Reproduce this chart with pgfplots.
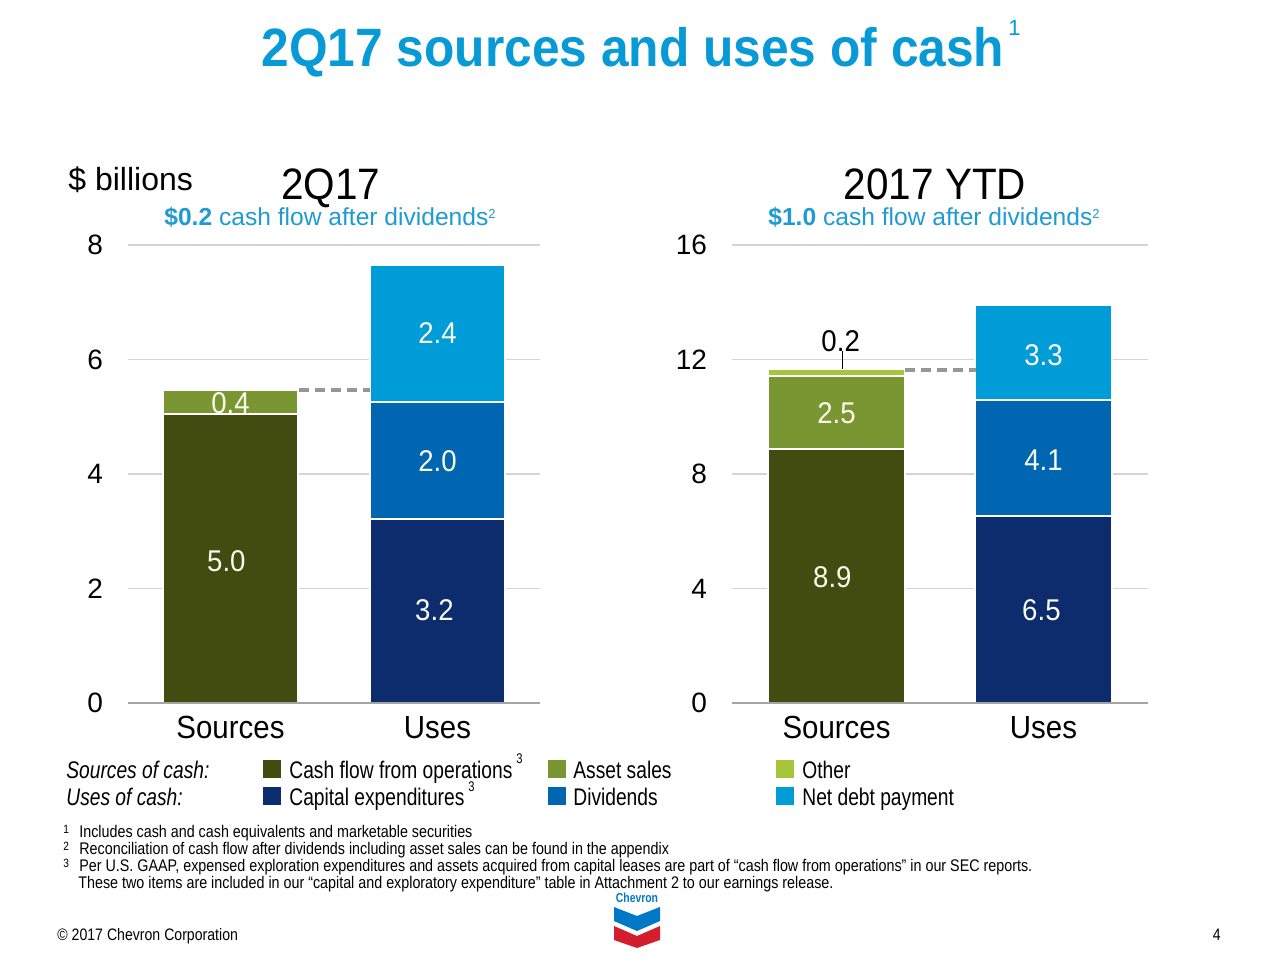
\documentclass[border=0pt]{standalone}
\usepackage{fontspec}
\usepackage{pgfplots}
\pgfplotsset{compat=1.18}
\setmainfont{Liberation Sans}
\newfontfamily\cond[FakeStretch=0.8]{Liberation Sans}
\newfontfamily\footf[FakeStretch=0.85]{Liberation Sans}
\newfontfamily\semi[FakeStretch=0.92]{Liberation Sans}
\definecolor{cfo}{RGB}{66,75,16}
\definecolor{asset}{RGB}{122,150,50}
\definecolor{other}{RGB}{166,196,60}
\definecolor{capex}{RGB}{12,44,110}
\definecolor{div}{RGB}{0,102,178}
\definecolor{netdebt}{RGB}{0,156,216}
\definecolor{titleblue}{RGB}{8,154,214}
\definecolor{subblue}{RGB}{30,155,209}
\definecolor{gridgray}{RGB}{212,212,212}
\definecolor{axisgray}{RGB}{165,165,165}
\definecolor{dashgray}{RGB}{150,150,150}
\definecolor{lblwhite}{RGB}{250,250,235}
\definecolor{chevblue}{RGB}{0,120,200}
\definecolor{chevred}{RGB}{210,30,45}
\pgfplotsset{
  cashaxis/.style={
    scale only axis, ybar stacked, reverse stacked plots=false,
    ymin=0, xtick={0,1}, xticklabels={Sources,Uses},
    ymajorgrids, grid style={draw=gridgray, line width=0.8pt},
    axis line style={draw=none}, major tick length=0pt,
    /pgf/number format/assume math mode=true,
    yticklabel style={font=\fontsize{14}{14}\selectfont, xshift=-9pt},
    xticklabel style={font=\semi\fontsize{16}{16}\selectfont, yshift=-3pt},
    clip=false,
  },
  barst/.style={draw=white, line width=1pt},
}
\tikzset{
  t/.style={inner sep=0pt, anchor=base west},
  lbl/.style={inner sep=0pt, text=lblwhite, font=\semi\fontsize{15}{15}\selectfont},
  leg/.style={inner sep=0pt, anchor=base west, font=\cond\fontsize{12}{14}\selectfont},
  foot/.style={inner sep=0pt, anchor=base west, font=\footf\fontsize{8.42}{10}\selectfont},
}
\newcommand{\supsm}[1]{\raisebox{0.55ex}{\fontsize{6.5}{6.5}\selectfont #1}}
\begin{document}
\begin{tikzpicture}[x=0.5pt,y=0.5pt]
\useasboundingbox (0,0) rectangle (1280,960);

% title
\node[inner sep=0pt, anchor=base, text=titleblue, font=\semi\bfseries\fontsize{27}{30}\selectfont] at (633,893) {2Q17 sources and uses of cash};
\node[t, text=titleblue, font=\fontsize{11}{11}\selectfont] at (1008,924) {1};

\node[t, font=\fontsize{16}{16}\selectfont] at (68,769) {\$ billions};
\node[inner sep=0pt, anchor=base, font=\semi\fontsize{22}{22}\selectfont] at (331,760) {2Q17};
\node[inner sep=0pt, anchor=base, font=\semi\fontsize{22}{22}\selectfont] at (935,760) {2017 YTD};
\node[inner sep=0pt, anchor=base, text=subblue, font=\fontsize{12.3}{12.3}\selectfont] at (330,734) {\textbf{\$0.2} cash flow after dividends\supsm{2}};
\node[inner sep=0pt, anchor=base, text=subblue, font=\fontsize{12.3}{12.3}\selectfont] at (934,734) {\textbf{\$1.0} cash flow after dividends\supsm{2}};

% left axis: 2Q17
\begin{axis}[cashaxis,
  at={(64pt,128.5pt)}, anchor=south west,
  width=206pt, height=229pt,
  bar width=0.652,
  xmin=-0.495, xmax=1.495, ymax=8,
  ytick={0,2,4,6,8},
]
\addplot[barst, fill=cfo] coordinates {(0,5.05) (1,0)};
\addplot[barst, fill=asset] coordinates {(0,0.42) (1,0)};
\addplot[barst, fill=capex] coordinates {(0,0) (1,3.22)};
\addplot[barst, fill=div] coordinates {(0,0) (1,2.04)};
\addplot[barst, fill=netdebt] coordinates {(0,0) (1,2.39)};
\addplot[sharp plot, stack plots=false, forget plot, draw=dashgray, fill=none, line width=2pt, dash pattern=on 5pt off 3pt] coordinates {(0.33,5.46) (0.672,5.46)};
\draw[axisgray, line width=1pt] (rel axis cs:0,0) -- (rel axis cs:1,0);
\node[lbl] at (axis cs:0,5.24) {0.4};
\node[lbl] at (axis cs:-0.02,2.48) {5.0};
\node[lbl] at (axis cs:1,6.46) {2.4};
\node[lbl] at (axis cs:1,4.23) {2.0};
\node[lbl] at (axis cs:0.985,1.62) {3.2};
\end{axis}

% right axis: 2017 YTD
\begin{axis}[cashaxis,
  at={(366pt,128.5pt)}, anchor=south west,
  width=208pt, height=229pt,
  bar width=0.66,
  xmin=-0.505, xmax=1.505, ymax=16,
  ytick={0,4,8,12,16},
]
\addplot[barst, fill=cfo] coordinates {(0,8.88) (1,0)};
\addplot[barst, fill=asset] coordinates {(0,2.55) (1,0)};
\addplot[barst, fill=other] coordinates {(0,0.23) (1,0)};
\addplot[barst, fill=capex] coordinates {(0,0) (1,6.54)};
\addplot[barst, fill=div] coordinates {(0,0) (1,4.05)};
\addplot[barst, fill=netdebt] coordinates {(0,0) (1,3.31)};
\addplot[sharp plot, stack plots=false, forget plot, draw=dashgray, fill=none, line width=2pt, dash pattern=on 5pt off 3pt] coordinates {(0.33,11.62) (0.672,11.62)};
\draw[axisgray, line width=1pt] (rel axis cs:0,0) -- (rel axis cs:1,0);
\draw[black, line width=0.6pt] (axis cs:0.027,11.68) -- (axis cs:0.027,12.28);
\node[inner sep=0pt, font=\semi\fontsize{15}{15}\selectfont] at (axis cs:0.02,12.65) {0.2};
\node[lbl] at (axis cs:0,10.13) {2.5};
\node[lbl] at (axis cs:-0.02,4.40) {8.9};
\node[lbl] at (axis cs:1,12.16) {3.3};
\node[lbl] at (axis cs:1,8.49) {4.1};
\node[lbl] at (axis cs:0.99,3.25) {6.5};
\end{axis}

% legend
\node[leg, font=\cond\itshape\fontsize{12}{14}\selectfont] at (66,182) {Sources of cash:};
\fill[cfo] (263,182) rectangle (281,200);
\node[leg] at (289,182) {Cash flow from operations};
\node[t, font=\cond\fontsize{7}{7}\selectfont] at (516,197) {3};
\fill[asset] (548,182) rectangle (566,200);
\node[leg] at (573,182) {Asset sales};
\fill[other] (776,182) rectangle (794,200);
\node[leg] at (802,182) {Other};

\node[leg, font=\cond\itshape\fontsize{12}{14}\selectfont] at (66,155) {Uses of cash:};
\fill[capex] (263,155) rectangle (281,173);
\node[leg] at (289,155) {Capital expenditures};
\node[t, font=\cond\fontsize{7}{7}\selectfont] at (468,169) {3};
\fill[div] (548,155) rectangle (566,173);
\node[leg] at (573,155) {Dividends};
\fill[netdebt] (776,155) rectangle (794,173);
\node[leg] at (802,155) {Net debt payment};

% footnotes
\node[t, font=\footf\fontsize{6}{6}\selectfont] at (63,127) {1};
\node[foot] at (79,123) {Includes cash and cash equivalents and marketable securities};
\node[t, font=\footf\fontsize{6}{6}\selectfont] at (63,110) {2};
\node[foot] at (79,106) {Reconciliation of cash flow after dividends including asset sales can be found in the appendix};
\node[t, font=\footf\fontsize{6}{6}\selectfont] at (63,93) {3};
\node[foot] at (79,89) {Per U.S. GAAP, expensed exploration expenditures and assets acquired from capital leases are part of “cash flow from operations” in our SEC reports.};
\node[foot] at (78,72) {These two items are included in our “capital and exploratory expenditure” table in Attachment 2 to our earnings release.};

% logo
\node[inner sep=0pt, anchor=base, text=chevblue, font=\cond\bfseries\fontsize{6.5}{6.5}\selectfont] at (637,58) {Chevron};
\fill[chevblue] (614,53) -- (637,44) -- (660,53) -- (660,39) -- (637,29) -- (614,39) -- cycle;
\fill[chevred] (614,34) -- (637,24) -- (660,34) -- (660,20) -- (637,12) -- (614,20) -- cycle;

% footer
\node[t, font=\footf\fontsize{8.3}{10}\selectfont] at (57,20) {© 2017 Chevron Corporation};
\node[inner sep=0pt, anchor=base east, font=\footf\fontsize{8.3}{10}\selectfont] at (1221,20) {4};
\end{tikzpicture}
\end{document}
